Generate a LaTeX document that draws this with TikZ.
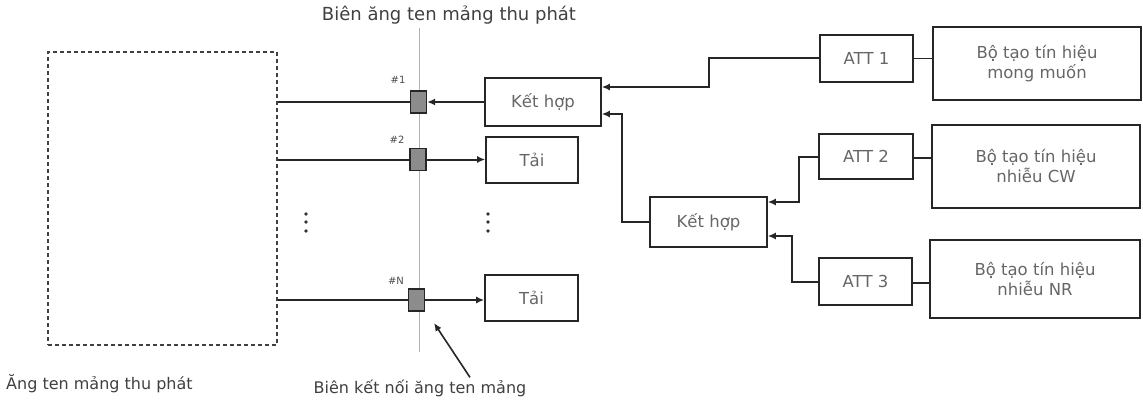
\documentclass[tikz,border=0pt]{standalone}
\usepackage{fontspec}
\setmainfont{DejaVu Sans}
\usetikzlibrary{arrows.meta,calc}
\tikzset{
  box/.style={draw=black!85, line width=1.6pt, inner sep=0pt, text=black!60, font=\fontsize{16.5}{20}\selectfont, align=center},
  port/.style={draw=black!85, fill=black!45, line width=1.2pt, minimum width=16pt, minimum height=22pt, inner sep=0pt},
  wire/.style={draw=black!85, line width=2pt},
  arr/.style={wire, -{Latex[length=8pt,width=7pt]}},
  lbl/.style={text=black!75, font=\fontsize{16}{19}\selectfont, inner sep=0pt},
  num/.style={text=black!70, font=\fontsize{10}{11}\selectfont, inner sep=0pt}
}
\begin{document}
\begin{tikzpicture}[x=1pt,y=-1pt]
\useasboundingbox (0,0) rectangle (1143,404);
% antenna array
\node[draw=black!75, line width=1.6pt, dash pattern=on 4pt off 3pt, minimum width=229pt, minimum height=293pt, inner sep=0pt] (ant) at (162.5,198.5) {};
\node[lbl, anchor=west] (antlbl) at (6,384) {Ăng ten mảng thu phát};
% boundary line
\node[lbl, font=\fontsize{18}{21}\selectfont] (title) at (449,15) {Biên ăng ten mảng thu phát};
\coordinate (btop) at (419,28);
\coordinate (bbot) at (419,352);
\draw[black!30, line width=1pt] (btop) -- (bbot);
% ports
\node[port] (sq1) at (418.5,102) {};
\node[port] (sq2) at (418,159.5) {};
\node[port] (sq3) at (416.5,300) {};
\node[num] (n1) at (398,80) {\#1};
\node[num] (n2) at (397,140) {\#2};
\node[num] (n3) at (396,281) {\#N};
% boxes
\node[box, minimum width=116pt, minimum height=48pt] (kh1) at (543,102) {\raisebox{-6pt}{Kết hợp}};
\node[box, minimum width=92pt, minimum height=46pt] (tai1) at (532,160) {Tải};
\node[box, minimum width=93pt, minimum height=46pt] (tai2) at (531.5,298) {Tải};
\node[box, minimum width=117pt, minimum height=50pt] (kh2) at (708.5,222) {Kết hợp};
\node[box, minimum width=93pt, minimum height=47pt] (att1) at (866.5,58.5) {ATT 1};
\node[box, minimum width=94pt, minimum height=45pt] (att2) at (866,156.5) {ATT 2};
\node[box, minimum width=93pt, minimum height=47pt] (att3) at (865.5,281.5) {ATT 3};
\node[box, minimum width=208pt, minimum height=73pt] (gen1) at (1037,63.5) {Bộ tạo tín hiệu\\mong muốn};
\node[box, minimum width=208pt, minimum height=83pt] (gen2) at (1036,166.5) {Bộ tạo tín hiệu\\nhiễu CW};
\node[box, minimum width=210pt, minimum height=78pt] (gen3) at (1035,279) {Bộ tạo tín hiệu\\nhiễu NR};
% dots
\foreach \yy in {214,222,231}{
  \fill[black!80] (306,\yy) circle (1.8pt);
  \fill[black!80] (488,\yy) circle (1.8pt);
}
% connections
\draw[wire] (ant.east |- sq1) -- (sq1.west);
\draw[wire] (ant.east |- sq2) -- (sq2.west);
\draw[wire] (ant.east |- sq3) -- (sq3.west);
\draw[arr] (kh1.west) -- (sq1.east);
\draw[arr] (sq2.east) -- (sq2.east -| tai1.west);
\draw[arr] (sq3.east) -- (sq3.east -| tai2.west);
\draw[arr] (att1.west) -- ++(-110,0) |- ([yshift=15pt]kh1.east);
\draw[arr] (kh2.west) -- ++(-27,0) |- ([yshift=-12pt]kh1.east);
\draw[arr] (att2.west) -- ++(-19,0) |- ([yshift=20pt]kh2.east);
\draw[arr] (att3.west) -- ++(-26,0) |- ([yshift=-14pt]kh2.east);
\draw[wire, line width=1.5pt] (att1.east) -- (att1.east -| gen1.west);
\draw[wire, line width=1.5pt] ([yshift=-1.5pt]att2.east) -- ([yshift=-1.5pt]att2.east -| gen2.west);
\draw[wire, line width=1.5pt] ([yshift=-1.5pt]att3.east) -- ([yshift=-1.5pt]att3.east -| gen3.west);
% pointer
\node[lbl] (blbl) at (420,388) {Biên kết nối ăng ten mảng};
\coordinate (ptr) at (434,323);
\draw[arr, line width=1.6pt] ([xshift=50pt,yshift=2pt]blbl.north) -- (ptr);
\end{tikzpicture}
\end{document}
